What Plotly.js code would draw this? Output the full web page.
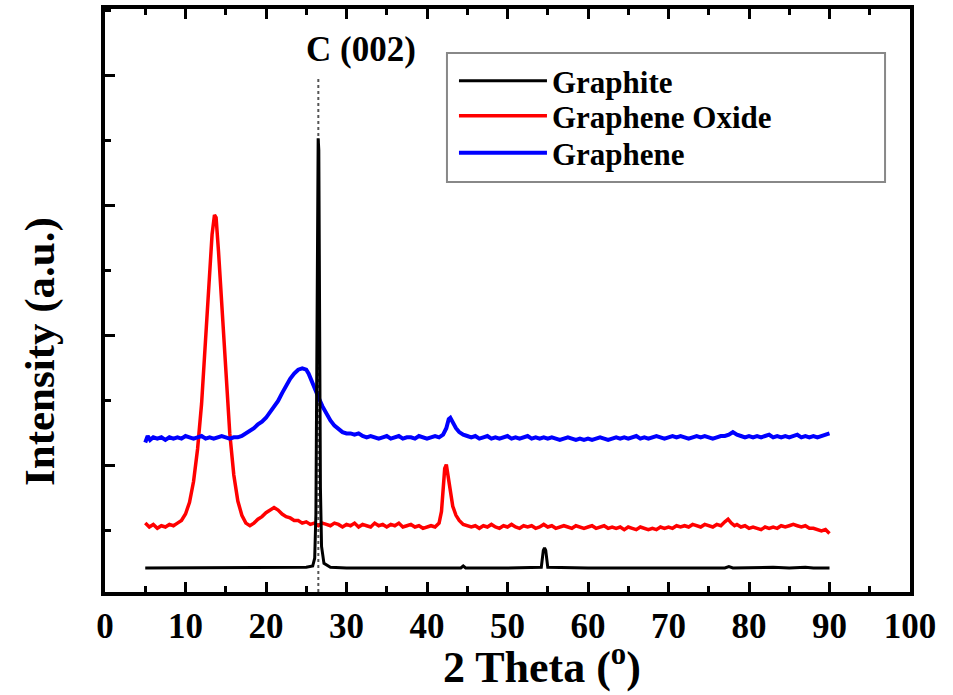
<!DOCTYPE html>
<html>
<head>
<meta charset="utf-8">
<script src="https://cdn.plot.ly/plotly-3.0.1.min.js"></script>
<style>html,body{margin:0;padding:0;background:#fff;}</style>
</head>
<body>
<div id="chart" style="width:953px;height:695px;"></div>
<script>
// Data: [2theta, intensity (a.u.)]
const graphitePts = [[5,0.185],[10,0.185],[15,0.185],[20,0.185],[24,0.186],[25,0.19],[25.8,0.20],[26.05,0.26],[26.2,0.6],[26.3,1.9],[26.38,2.0],[26.48,3.49],[26.56,3.40],[26.66,2.2],[26.76,0.8],[26.9,0.35],[27.2,0.22],[28,0.19],[30,0.185],[35,0.185],[40,0.185],[44.2,0.185],[44.5,0.20],[44.8,0.185],[50,0.185],[54.2,0.19],[54.45,0.32],[54.6,0.34],[54.75,0.32],[55,0.19],[60,0.185],[65,0.185],[70,0.185],[77,0.185],[77.5,0.195],[78,0.185],[83,0.19],[85,0.185],[87,0.19],[88,0.185],[90,0.185]];

const goPts = [[5,0.53],[5.5,0.50],[6,0.52],[6.5,0.49],[7,0.51],[7.5,0.50],[8,0.52],[8.5,0.51],[9,0.53],[9.5,0.55],[10,0.60],[10.5,0.69],[11,0.85],[11.5,1.10],[12,1.45],[12.5,1.95],[13,2.50],[13.3,2.75],[13.6,2.90],[13.8,2.88],[14.1,2.62],[14.5,2.20],[15,1.65],[15.5,1.22],[16,0.90],[16.5,0.70],[17,0.59],[17.5,0.53],[18,0.51],[18.5,0.53],[19,0.56],[19.5,0.58],[20,0.61],[20.5,0.63],[21,0.65],[21.5,0.63],[22,0.60],[22.5,0.58],[23,0.57],[23.5,0.55],[24,0.55],[24.5,0.53],[25,0.54],[25.5,0.52],[26,0.53],[26.5,0.51],[27,0.53],[27.5,0.52],[28,0.51],[28.5,0.53],[29,0.52],[29.5,0.50],[30,0.52],[30.5,0.51],[31,0.53],[31.5,0.50],[32,0.52],[32.5,0.51],[33,0.50],[33.5,0.53],[34,0.51],[34.5,0.52],[35,0.50],[35.5,0.52],[36,0.51],[36.5,0.53],[37,0.50],[37.5,0.51],[38,0.52],[38.5,0.50],[39,0.51],[39.5,0.49],[40,0.50],[40.5,0.51],[41,0.50],[41.5,0.53],[41.8,0.62],[42,0.80],[42.2,0.95],[42.4,0.98],[42.6,0.90],[42.9,0.76],[43.2,0.66],[43.6,0.59],[44,0.55],[44.5,0.52],[45,0.51],[45.5,0.50],[46,0.51],[46.5,0.49],[47,0.51],[47.5,0.50],[48,0.52],[48.5,0.50],[49,0.49],[49.5,0.51],[50,0.50],[50.5,0.52],[51,0.50],[51.5,0.49],[52,0.51],[52.5,0.50],[53,0.51],[53.5,0.49],[54,0.50],[54.5,0.52],[55,0.50],[55.5,0.51],[56,0.49],[56.5,0.50],[57,0.51],[57.5,0.50],[58,0.49],[58.5,0.51],[59,0.50],[59.5,0.49],[60,0.50],[60.5,0.51],[61,0.49],[61.5,0.50],[62,0.51],[62.5,0.49],[63,0.50],[63.5,0.49],[64,0.50],[64.5,0.48],[65,0.50],[65.5,0.49],[66,0.48],[66.5,0.50],[67,0.49],[67.5,0.48],[68,0.49],[68.5,0.48],[69,0.50],[69.5,0.49],[70,0.50],[70.5,0.49],[71,0.51],[71.5,0.50],[72,0.51],[72.5,0.50],[73,0.52],[73.5,0.51],[74,0.50],[74.5,0.52],[75,0.51],[75.5,0.50],[76,0.52],[76.5,0.51],[77,0.54],[77.4,0.56],[77.8,0.53],[78.2,0.51],[78.5,0.52],[79,0.50],[79.5,0.51],[80,0.49],[80.5,0.50],[81,0.49],[81.5,0.48],[82,0.50],[82.5,0.49],[83,0.50],[83.5,0.49],[84,0.51],[84.5,0.50],[85,0.51],[85.5,0.52],[86,0.51],[86.5,0.50],[87,0.51],[87.5,0.49],[88,0.49],[88.5,0.48],[89,0.47],[89.5,0.48],[90,0.45]];

const graphenePts = [[5,1.15],[5.3,1.20],[5.6,1.17],[6,1.19],[6.5,1.18],[7,1.19],[7.5,1.17],[8,1.19],[8.5,1.18],[9,1.19],[9.5,1.18],[10,1.20],[10.5,1.19],[11,1.18],[11.5,1.19],[12,1.20],[12.5,1.18],[13,1.19],[13.5,1.18],[14,1.19],[14.5,1.20],[15,1.19],[15.5,1.18],[16,1.19],[16.5,1.19],[17,1.20],[17.5,1.22],[18,1.24],[18.5,1.26],[19,1.29],[19.5,1.31],[20,1.34],[20.5,1.38],[21,1.42],[21.5,1.47],[22,1.53],[22.5,1.59],[23,1.64],[23.5,1.68],[24,1.71],[24.5,1.72],[25,1.71],[25.3,1.68],[25.6,1.63],[26,1.57],[26.5,1.50],[27,1.43],[27.5,1.37],[28,1.32],[28.5,1.28],[29,1.25],[29.5,1.23],[30,1.22],[30.5,1.22],[31,1.21],[31.5,1.22],[32,1.20],[32.5,1.19],[33,1.20],[33.5,1.19],[34,1.18],[34.5,1.19],[35,1.20],[35.5,1.18],[36,1.19],[36.5,1.20],[37,1.18],[37.5,1.19],[38,1.19],[38.5,1.18],[39,1.20],[39.5,1.19],[40,1.18],[40.5,1.19],[41,1.20],[41.5,1.19],[42,1.21],[42.4,1.26],[42.7,1.33],[42.9,1.34],[43.2,1.30],[43.6,1.26],[44,1.23],[44.5,1.21],[45,1.20],[45.5,1.19],[46,1.20],[46.5,1.18],[47,1.19],[47.5,1.20],[48,1.18],[48.5,1.19],[49,1.18],[49.5,1.19],[50,1.20],[50.5,1.18],[51,1.19],[51.5,1.18],[52,1.19],[52.5,1.20],[53,1.18],[53.5,1.19],[54,1.18],[54.5,1.19],[55,1.18],[55.5,1.19],[56,1.18],[56.5,1.17],[57,1.18],[57.5,1.19],[58,1.18],[58.5,1.17],[59,1.18],[59.5,1.17],[60,1.18],[60.5,1.17],[61,1.18],[61.5,1.19],[62,1.18],[62.5,1.17],[63,1.18],[63.5,1.19],[64,1.18],[64.5,1.19],[65,1.18],[65.5,1.19],[66,1.20],[66.5,1.18],[67,1.19],[67.5,1.18],[68,1.19],[68.5,1.20],[69,1.19],[69.5,1.18],[70,1.19],[70.5,1.20],[71,1.19],[71.5,1.20],[72,1.19],[72.5,1.18],[73,1.19],[73.5,1.20],[74,1.19],[74.5,1.20],[75,1.19],[75.5,1.18],[76,1.19],[76.5,1.20],[77,1.20],[77.5,1.21],[78,1.23],[78.5,1.21],[79,1.20],[79.5,1.19],[80,1.20],[80.5,1.19],[81,1.20],[81.5,1.19],[82,1.20],[82.5,1.21],[83,1.19],[83.5,1.20],[84,1.19],[84.5,1.20],[85,1.19],[85.5,1.20],[86,1.21],[86.5,1.19],[87,1.20],[87.5,1.19],[88,1.20],[88.5,1.19],[89,1.20],[89.5,1.21],[90,1.22]];

const seriesNames = ["Graphite", "Graphene Oxide", "Graphene"];
const xTickVals = [0,10,20,30,40,50,60,70,80,90,100];
const xTitle = "2 Theta (<sup>o</sup>)";
const yTitle = "Intensity (a.u.)";
const peakLabel = "C (002)";
const peakX = 26.5;      // position of C(002) reference line
const peakLineTop = 3.95;
const peakLabelPos = [31.8, 4.17];

const FONT = "Liberation Serif, Times New Roman, serif";
const legFont = {family: FONT, size: 31, color: "#000", weight: "bold"};
function legendAt(yc) {
  return {x: 0.4335, y: yc, xanchor: "left", yanchor: "middle",
          bgcolor: "rgba(0,0,0,0)", borderwidth: 0, font: legFont, itemwidth: 88};
}

const traces = [
  {x: goPts.map(p=>p[0]), y: goPts.map(p=>p[1]), name: seriesNames[1], type: "scatter", mode: "lines",
   line: {color: "#ff0000", width: 3.5}, legend: "legend2"},
  {x: graphenePts.map(p=>p[0]), y: graphenePts.map(p=>p[1]), name: seriesNames[2], type: "scatter", mode: "lines",
   line: {color: "#0000ff", width: 4}, legend: "legend3"},
  {x: graphitePts.map(p=>p[0]), y: graphitePts.map(p=>p[1]), name: seriesNames[0], type: "scatter", mode: "lines",
   line: {color: "#000000", width: 3}, legend: "legend"}
];

const layout = {
  width: 953, height: 695,
  margin: {l: 105, r: 43, t: 9, b: 103},
  paper_bgcolor: "#ffffff", plot_bgcolor: "#ffffff",
  font: {family: FONT, color: "#000"},
  showlegend: true,
  legend: legendAt(0.8765),
  legend2: legendAt(0.8165),
  legend3: legendAt(0.753),
  xaxis: {
    range: [0, 100], tickmode: "array", tickvals: xTickVals, ticktext: xTickVals.map(String),
    ticks: "inside", ticklen: 10, tickwidth: 3, tickcolor: "#000",
    minor: {dtick: 5, tick0: 0, ticks: "inside", ticklen: 6, tickwidth: 3, tickcolor: "#000", showgrid: false},
    showline: true, linewidth: 4, linecolor: "#000", mirror: "ticks",
    showgrid: false, zeroline: false,
    tickfont: {family: FONT, size: 35, color: "#000", weight: "bold"}
  },
  yaxis: {
    range: [0, 4.485], tick0: 0.977, dtick: 1,
    ticks: "inside", ticklen: 10, tickwidth: 3, tickcolor: "#000",
    minor: {tick0: 0.477, dtick: 0.5, ticks: "inside", ticklen: 6, tickwidth: 3, tickcolor: "#000", showgrid: false},
    showticklabels: false,
    showline: true, linewidth: 4, linecolor: "#000", mirror: true,
    showgrid: false, zeroline: false
  },
  shapes: [
    {type: "line", xref: "x", yref: "y", x0: peakX, x1: peakX, y0: 0, y1: peakLineTop,
     line: {color: "#555", width: 2, dash: "dot"}, layer: "below"},
    // legend frame
    {type: "rect", xref: "paper", yref: "paper", x0: 0.4248, x1: 0.969, y0: 0.7033, y1: 0.9245,
     fillcolor: "#ffffff", line: {color: "#888888", width: 2}, layer: "above"}
  ],
  annotations: [
    {x: peakLabelPos[0], y: peakLabelPos[1], xref: "x", yref: "y", text: peakLabel, showarrow: false,
     font: {family: FONT, size: 35, color: "#000", weight: "bold"}},
    {x: 0.543, y: -0.1235, xref: "paper", yref: "paper", text: xTitle, showarrow: false,
     xanchor: "center", yanchor: "middle",
     font: {family: FONT, size: 44, color: "#000", weight: "bold"}},
    {x: -0.0807, y: 0.4117, xref: "paper", yref: "paper", text: yTitle, showarrow: false, textangle: -90,
     xanchor: "center", yanchor: "middle",
     font: {family: FONT, size: 43, color: "#000", weight: "bold"}}
  ]
};

Plotly.newPlot("chart", traces, layout, {displayModeBar: false, responsive: false});
</script>
</body>
</html>
